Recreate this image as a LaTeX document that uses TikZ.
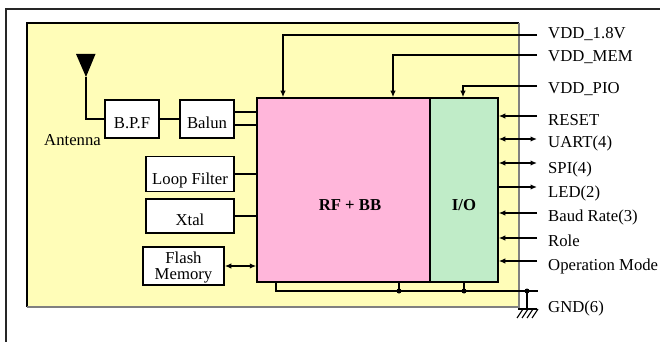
\documentclass[tikz,border=0pt]{standalone}
\usepackage{fontspec}
\setmainfont{Liberation Serif}
\usetikzlibrary{arrows.meta,calc}
\definecolor{bgyellow}{RGB}{255,253,184}
\definecolor{rfpink}{RGB}{255,182,218}
\definecolor{iogreen}{RGB}{192,236,200}
\begin{document}
\begin{tikzpicture}[x=1pt,y=-1pt,
  every node/.style={font=\fontsize{16.7}{15.7}\selectfont},
  blkbase/.style={draw=black, line width=1.5pt, fill=white, inner sep=0pt},
  blk/.style={blkbase, text height=18pt, text depth=0pt},
  big/.style={draw=black, line width=1.5pt, inner sep=0pt, font=\fontsize{16.7}{15.7}\selectfont\bfseries},
  txt/.style={inner sep=0pt, anchor=base west},
  wire/.style={line width=1.5pt},
  tip/.style={-{Latex[length=6.5pt,width=5.5pt]}},
  tips/.style={{Latex[length=6.5pt,width=5.5pt]}-{Latex[length=6.5pt,width=5.5pt]}},
  dot/.style={fill=black}
]
\useasboundingbox (0,0) rectangle (660,342);
% outer frame (left and top only)
\draw[line width=1.8pt, black!85] (6,342) -- (6,9) -- (660,9);
% yellow module area
\fill[bgyellow] (27,23) rectangle (519,307);
\draw[line width=1.1pt, black] (27,307) -- (27,23) -- (519,23);
\draw[line width=1.1pt, black!50] (27,307) -- (519,307) -- (519,23);

% blocks
\node[blk, minimum width=54pt, minimum height=38pt] (bpf) at (132,119) {B.P.F};
\node[blk, minimum width=54pt, minimum height=38pt] (balun) at (207,119) {Balun};
\node[blk, minimum width=88pt, minimum height=35pt, text height=21pt] (lf) at (190,174) {Loop Filter};
\node[blk, minimum width=88pt, minimum height=34pt] (xtal) at (190,216) {Xtal};
\node[blkbase, minimum width=81pt, minimum height=38pt, align=center, text depth=0pt] (fm) at (183.5,266) {Flash\\Memory};
\node[big, fill=rfpink, minimum width=173pt, minimum height=184pt] (rf) at (343.5,190) {};
\node[inner sep=0pt, anchor=base, font=\fontsize{16.7}{15.7}\selectfont\bfseries] (rft) at (350,210) {RF + BB};
\node[big, fill=iogreen, minimum width=68pt, minimum height=184pt, text height=40pt, text depth=0pt] (io) at (464,190) {I/O};

% antenna
\coordinate (ant) at (86,77);
\fill (76,54) -- (95.5,54) -- (ant) -- cycle;
\draw[wire] (ant) |- (bpf.west);
\node[inner sep=0pt, anchor=base] (antl) at (72.5,145) {Antenna};

% left connections
\draw[wire] (bpf.east) -- (balun.west);
\draw[wire] (balun.east |- 0,112) -- (rf.west |- 0,112);
\draw[wire] (balun.east |- 0,125) -- (rf.west |- 0,125);
\draw[wire] (lf.east) -- (rf.west |- lf.east);
\draw[wire] (xtal.east) -- (rf.west |- xtal.east);
\draw[wire,tips] (fm.east) -- (rf.west |- fm.east);

% supplies
\coordinate (v18) at (537,35);
\coordinate (vmem) at (537,55);
\coordinate (vpio) at (537,86);
\draw[wire,tip] (v18) -| (rf.north -| 283,0);
\draw[wire,tip] (vmem) -| (rf.north -| 393,0);
\draw[wire,tip] (vpio) -| (io.north -| 463,0);
\node[txt] (l18) at (548,39) {VDD\_1.8V};
\node[txt] (lmem) at (548,62) {VDD\_MEM};
\node[txt] (lpio) at (548,94) {VDD\_PIO};

% I/O pins
\coordinate (pRst) at (537,116);
\coordinate (pUart) at (537,139);
\coordinate (pSpi) at (537,163);
\coordinate (pLed) at (537,187);
\coordinate (pBaud) at (537,213);
\coordinate (pRole) at (537,238);
\coordinate (pOp) at (537,261);
\draw[wire,tip] (pRst) -- (io.east |- pRst);
\draw[wire,tips] (io.east |- pUart) -- (pUart);
\draw[wire,tips] (io.east |- pSpi) -- (pSpi);
\draw[wire,tip] (io.east |- pLed) -- (pLed);
\draw[wire,tip] (pBaud) -- (io.east |- pBaud);
\draw[wire,tip] (pRole) -- (io.east |- pRole);
\draw[wire,tip] (pOp) -- (io.east |- pOp);
\node[txt] (lrst) at (548,125) {RESET};
\node[txt] (luart) at (548,147) {UART(4)};
\node[txt] (lspi) at (548,173) {SPI(4)};
\node[txt] (lled) at (548,197) {LED(2)};
\node[txt] (lbaud) at (548,221) {Baud Rate(3)};
\node[txt] (lrole) at (548,246) {Role};
\node[txt] (lop) at (548,270) {Operation Mode};

% ground bus
\coordinate (j1) at (399,291);
\coordinate (j2) at (464,291);
\coordinate (gJ) at (527,291);
\coordinate (gE) at (538,291);
\coordinate (gB) at (527,309);
\draw[wire] (rf.south -| 276,0) |- (gE);
\draw[wire] (rf.south -| j1) -- (j1);
\draw[wire] (io.south -| j2) -- (j2);
\draw[wire] (gJ) -- (gB);
\draw[wire] (518,309) -- (537,309);
\foreach \x in {523,528,533,538} \draw[line width=1.1pt] (\x,309) -- (\x-6,318);
\fill[dot] (j1) circle (2.5);
\fill[dot] (j2) circle (2.5);
\fill[dot] (gJ) circle (2.5);
\node[txt] (lgnd) at (548,312) {GND(6)};
\end{tikzpicture}
\end{document}
